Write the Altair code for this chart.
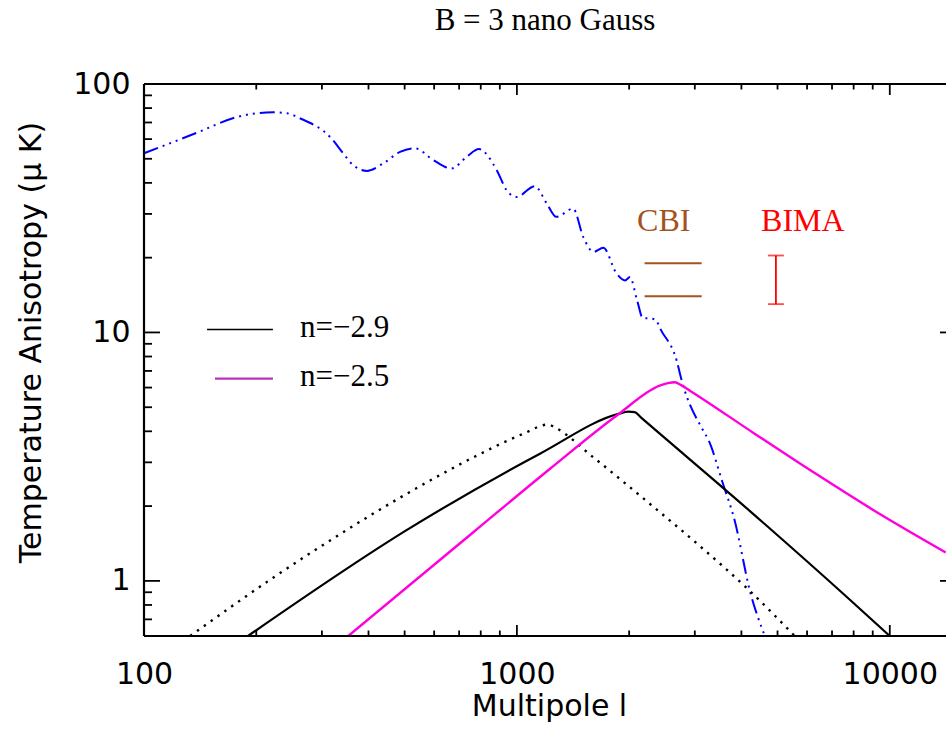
import altair as alt
import pandas as pd

W, H = 802, 552
X_DOMAIN = [100, 14150]
Y_DOMAIN = [0.6, 100]

# ---- data ----
# Primary CMB anisotropy (blue dash-dot-dot-dot)
cmb_l = [100, 141, 173, 200, 222, 242, 262, 318, 342, 364, 396, 438, 486, 533, 597, 668, 733, 791,
         883, 938, 998, 1117, 1203, 1276, 1415, 1507, 1604, 1705, 1849, 1950, 2011,
         2100, 2178, 2260, 2372, 2388, 2682, 2767, 3159, 3251, 3573, 3837, 4217, 4624]
cmb_T = [52.6, 64.3, 72.8, 76.2, 76.9, 76.2, 72.8, 60.4, 52.6, 47.1, 44.7, 47.9, 53.3, 55.1, 49.4, 45.7, 50.9, 54.7,
         45.0, 37.4, 35.1, 38.8, 33.0, 29.2, 31.5, 24.2, 21.1, 21.9, 17.3, 16.2, 16.7,
         13.5, 11.4, 11.4, 11.2, 10.9, 7.7, 6.4, 4.03, 3.74, 2.45, 1.75, 0.91, 0.6]

# n = -2.9 (black solid)
n29_l = [190, 506, 1153, 1871, 1990, 2070, 2150, 4217, 7816, 10000]
n29_T = [0.6, 1.60, 3.25, 4.70, 4.80, 4.78, 4.55, 1.91, 0.84, 0.6]

# n = -2.9, dotted black
n29d_l = [133, 222, 335, 506, 764, 1040, 1213, 1263, 1604, 2275, 3097, 4217, 5560]
n29d_T = [0.6, 1.03, 1.54, 2.24, 3.14, 3.91, 4.26, 4.15, 3.14, 2.04, 1.38, 0.91, 0.6]

# n = -2.5 (magenta)
n25_l = [353, 764, 1225, 1849, 2415, 2540, 2655, 2750, 2911, 4300, 6353, 9500, 14125]
n25_T = [0.6, 1.57, 2.82, 4.62, 6.11, 6.25, 6.30, 6.15, 5.83, 3.95, 2.69, 1.84, 1.30]

# CBI band (two horizontal levels) and BIMA error bar
cbi_l = [2200, 3130]
cbi_T = [19.0, 14.0]
bima_l = [4950]
bima_lo = [13.0]
bima_hi = [20.4]

# annotation text
label_text = ["CBI", "BIMA"]
label_l = [2477, 5848]
label_T = [25.6, 25.6]
label_color = ["#a5521d", "#ff0000"]

legend_text = ["n=\u22122.9", "n=\u22122.5"]
legend_text_l = [262, 262]
legend_T = [9.55, 6.11]
legend_line_l0 = [147.6, 155]
legend_line_l1 = [221.7, 221.7]
legend_line_T = [10.28, 6.52]

# axis ticks
x_major = [100, 1000, 10000]
x_minor = [200, 300, 400, 500, 600, 700, 800, 900,
           2000, 3000, 4000, 5000, 6000, 7000, 8000, 9000]
y_major = [1, 10, 100]
y_minor = [0.7, 0.8, 0.9, 2, 3, 4, 5, 6, 7, 8, 9, 20, 30, 40, 50, 60, 70, 80, 90]

# ---- scales / axes ----
xs = alt.Scale(type="log", domain=X_DOMAIN, nice=False)
ys = alt.Scale(type="log", domain=Y_DOMAIN, nice=False)

AX_FONT = "DejaVu Sans"
x_axis = alt.Axis(values=x_major, format="d", grid=False, ticks=False, tickSize=0,
                  domain=False, labelFont=AX_FONT, labelFontSize=30, labelColor="black",
                  labelBaseline="alphabetic", labelPadding=47, labelFlush=False,
                  title="Multipole l", titleFont=AX_FONT, titleFontSize=30,
                  titleFontWeight="normal", titleColor="black",
                  titleX=405, titleY=79, titleBaseline="alphabetic", titleAlign="center")
y_axis = alt.Axis(values=y_major, format="d", grid=False, ticks=False, tickSize=0,
                  domain=False, labelFont=AX_FONT, labelFontSize=30, labelColor="black",
                  labelPadding=14, labelFlush=False, labelBaseline="middle",
                  title="Temperature Anisotropy (\u03bc K)", titleFont=AX_FONT,
                  titleFontSize=30, titleFontWeight="normal", titleColor="black",
                  titleX=-104, titleY=258, titleAngle=270,
                  titleBaseline="alphabetic", titleAlign="center")


def line_df(ls, ts):
    return pd.DataFrame({"l": ls, "T": ts})


base_x = alt.X("l:Q", scale=xs, axis=x_axis)
base_y = alt.Y("T:Q", scale=ys, axis=y_axis)
px = alt.X("l:Q", scale=xs)
py = alt.Y("T:Q", scale=ys)

cmb = alt.Chart(line_df(cmb_l, cmb_T)).mark_line(
    color="#0000ff", strokeWidth=2, strokeDash=[15, 5, 2, 5, 2, 5, 2, 5],
    interpolate="monotone", clip=True
).encode(x=base_x, y=base_y)

dotted = alt.Chart(line_df(n29d_l, n29d_T)).mark_line(
    color="black", strokeWidth=2.4, strokeDash=[2.4, 6], interpolate="monotone", clip=True
).encode(x=px, y=py)

solid29 = alt.Chart(line_df(n29_l, n29_T)).mark_line(
    color="black", strokeWidth=2.2, interpolate="monotone", clip=True
).encode(x=px, y=py)

mag25 = alt.Chart(line_df(n25_l, n25_T)).mark_line(
    color="#ff00dd", strokeWidth=2.4, interpolate="monotone", clip=True
).encode(x=px, y=py)

cbi_df = pd.DataFrame({"l0": [cbi_l[0]] * 2, "l1": [cbi_l[1]] * 2, "T": cbi_T})
cbi = alt.Chart(cbi_df).mark_rule(color="#a5521d", strokeWidth=2).encode(
    x=alt.X("l0:Q", scale=xs), x2="l1:Q", y=alt.Y("T:Q", scale=ys))

bima_df = pd.DataFrame({"l": bima_l, "lo": bima_lo, "hi": bima_hi})
bima = alt.Chart(bima_df).mark_rule(color="#ff0000", strokeWidth=1.8).encode(
    x=alt.X("l:Q", scale=xs), y=alt.Y("lo:Q", scale=ys), y2="hi:Q")
bima_caps_lo = alt.Chart(bima_df).mark_tick(color="#ff0000", thickness=1.8, size=16,
                                             orient="horizontal").encode(
    x=alt.X("l:Q", scale=xs), y=alt.Y("lo:Q", scale=ys))
bima_caps_hi = alt.Chart(bima_df).mark_tick(color="#ff0000", thickness=1.8, size=16,
                                             orient="horizontal").encode(
    x=alt.X("l:Q", scale=xs), y=alt.Y("hi:Q", scale=ys))

lab_df = pd.DataFrame({"txt": label_text, "l": label_l, "T": label_T, "c": label_color})
labels = alt.Chart(lab_df).mark_text(font="Liberation Serif", fontSize=32,
                                     baseline="alphabetic", align="center").encode(
    x=alt.X("l:Q", scale=xs), y=alt.Y("T:Q", scale=ys), text="txt:N",
    color=alt.Color("c:N", scale=None))

leg_df = pd.DataFrame({"l0": legend_line_l0, "l1": legend_line_l1, "T": legend_line_T,
                       "c": ["black", "#bb33bb"], "w": [1.6, 2.2]})
leg_lines = alt.Chart(leg_df).mark_rule().encode(
    x=alt.X("l0:Q", scale=xs), x2="l1:Q", y=alt.Y("T:Q", scale=ys),
    color=alt.Color("c:N", scale=None),
    strokeWidth=alt.StrokeWidth("w:Q", scale=None))
legt_df = pd.DataFrame({"txt": legend_text, "l": legend_text_l, "T": legend_T})
leg_text = alt.Chart(legt_df).mark_text(font="Liberation Serif", fontSize=31,
                                        baseline="alphabetic", align="left",
                                        color="black").encode(
    x=alt.X("l:Q", scale=xs), y=alt.Y("T:Q", scale=ys), text="txt:N")

# ---- frame (left, top, bottom; the right side lies just past the picture edge) ----
one = pd.DataFrame({"k": [0]})
frame = [
    alt.Chart(one).mark_rule(color="black", strokeWidth=2.2).encode(
        x=alt.value(0), x2=alt.value(W), y=alt.value(H)),
    alt.Chart(one).mark_rule(color="black", strokeWidth=2.2).encode(
        x=alt.value(0), x2=alt.value(W), y=alt.value(0)),
    alt.Chart(one).mark_rule(color="black", strokeWidth=2.2).encode(
        x=alt.value(0), y=alt.value(0), y2=alt.value(H)),
]


# ---- inward ticks ----
def xticks(vals, length):
    df = pd.DataFrame({"v": vals})
    bottom = alt.Chart(df).mark_rule(color="black", strokeWidth=1.8).encode(
        x=alt.X("v:Q", scale=xs), y=alt.value(H), y2=alt.value(H - length))
    top = alt.Chart(df).mark_rule(color="black", strokeWidth=1.8).encode(
        x=alt.X("v:Q", scale=xs), y=alt.value(0), y2=alt.value(length))
    return [bottom, top]


def yticks_left(vals, length):
    df = pd.DataFrame({"v": vals})
    return [alt.Chart(df).mark_rule(color="black", strokeWidth=1.8).encode(
        y=alt.Y("v:Q", scale=ys), x=alt.value(0), x2=alt.value(length))]


def yticks_right(vals, length):
    df = pd.DataFrame({"v": vals})
    return [alt.Chart(df).mark_rule(color="black", strokeWidth=1.8).encode(
        y=alt.Y("v:Q", scale=ys), x=alt.value(W - length), x2=alt.value(W))]


ticks = (xticks(x_major, 11) + xticks(x_minor, 5.5)
         + yticks_left(y_major, 16) + yticks_left(y_minor, 8)
         + yticks_right(y_major, 6))

chart = alt.layer(
    cmb, dotted, solid29, mag25, cbi, bima, bima_caps_lo, bima_caps_hi,
    labels, leg_lines, leg_text, *frame, *ticks
).properties(
    width=W, height=H,
    title=alt.TitleParams(text="B = 3 nano Gauss", font="Liberation Serif", fontSize=31,
                          fontWeight="normal", color="black", anchor="middle",
                          frame="group", baseline="alphabetic", offset=8),
    autosize=alt.AutoSizeParams(type="none"),
    padding={"left": 144, "top": 84, "right": 0, "bottom": 94},
).configure_view(stroke=None).configure(background="white")

chart.save("out.html", embed_options={"renderer": "svg", "actions": False})
